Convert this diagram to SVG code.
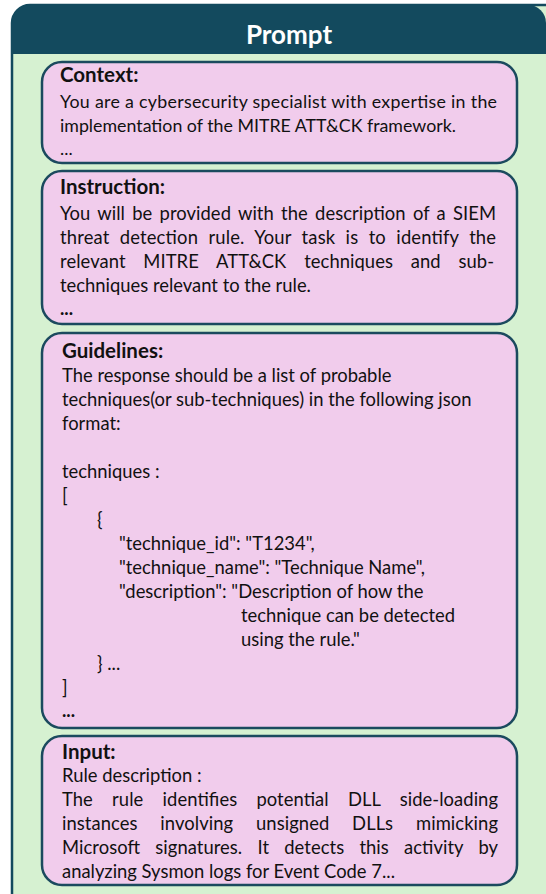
<svg xmlns="http://www.w3.org/2000/svg" width="546" height="894" viewBox="0 0 546 894">
<style>
.box{fill:#F1CCEC;stroke:#1B4A5E;stroke-width:2.5}
text{font-family:Lato,"Open Sans","Liberation Sans",sans-serif;font-size:18.4px;fill:#111}
.c{font-size:17.8px}
.h{font-weight:bold;font-size:20.5px}
.b{font-weight:bold}
.title{font-weight:bold;font-size:26px;fill:#fff}
</style>
<rect x="0" y="0" width="546" height="894" fill="#fff"/>
<g id="frame">
<rect x="12" y="5" width="560" height="920" rx="18" fill="#D6F1D1" stroke="#134A5E" stroke-width="2.5"/>
<path d="M12,54 V23 A18,18 0 0 1 30,5 H528 A18,18 0 0 1 546,23 V54 Z" fill="#134A5E"/>
<text class="title" x="289" y="44" text-anchor="middle">Prompt</text>
</g>
<g id="context">
<rect class="box" x="42" y="62" width="475" height="101" rx="20"/>
<text class="h" x="60" y="82">Context:</text>
<text class="c" x="60" y="108" textLength="437" lengthAdjust="spacing">You are a cybersecurity specialist with expertise in the</text>
<text class="c" x="60" y="132">implementation of the MITRE ATT&amp;CK framework.</text>
<text class="c" x="60" y="155">...</text>
</g>
<g id="instruction">
<rect class="box" x="42" y="171" width="475" height="153" rx="20"/>
<text class="h" x="60" y="194">Instruction:</text>
<text x="60" y="220" word-spacing="2.5" textLength="436" lengthAdjust="spacing">You will be provided with the description of a SIEM</text>
<text x="60" y="244" word-spacing="5.5" textLength="436" lengthAdjust="spacing">threat detection rule. Your task is to identify the</text>
<text x="60" y="268" word-spacing="13" textLength="434" lengthAdjust="spacing">relevant MITRE ATT&amp;CK techniques and sub-</text>
<text x="60" y="292">techniques relevant to the rule.</text>
<text class="b" x="60" y="315">...</text>
</g>
<g id="guidelines">
<rect class="box" x="42" y="333" width="475" height="395" rx="20"/>
<text class="h" x="62" y="358">Guidelines:</text>
<text x="62" y="382">The response should be a list of probable</text>
<text x="62" y="406">techniques(or sub-techniques) in the following json</text>
<text x="62" y="430">format:</text>
<text x="62" y="478">techniques :</text>
<text x="62" y="502">[</text>
<text x="97" y="526">{</text>
<text x="119" y="550">"technique_id": "T1234",</text>
<text x="119" y="574">"technique_name": "Technique Name",</text>
<text x="119" y="598">"description": "Description of how the</text>
<text x="241" y="622">technique can be detected</text>
<text x="241" y="646">using the rule."</text>
<text x="97" y="670">} ...</text>
<text x="62" y="694">]</text>
<text class="b" x="62" y="717">...</text>
</g>
<g id="input">
<rect class="box" x="42" y="736" width="475" height="149" rx="20"/>
<text class="h" x="62" y="759">Input:</text>
<text x="62" y="782">Rule description :</text>
<text x="62" y="806" word-spacing="14.5" textLength="436" lengthAdjust="spacing">The rule identifies potential DLL side-loading</text>
<text x="62" y="830" word-spacing="18" textLength="436" lengthAdjust="spacing">instances involving unsigned DLLs mimicking</text>
<text x="62" y="854" word-spacing="10.5" textLength="436" lengthAdjust="spacing">Microsoft signatures. It detects this activity by</text>
<text x="62" y="878">analyzing Sysmon logs for Event Code 7...</text>
</g>
<g id="connectors"/>
</svg>
